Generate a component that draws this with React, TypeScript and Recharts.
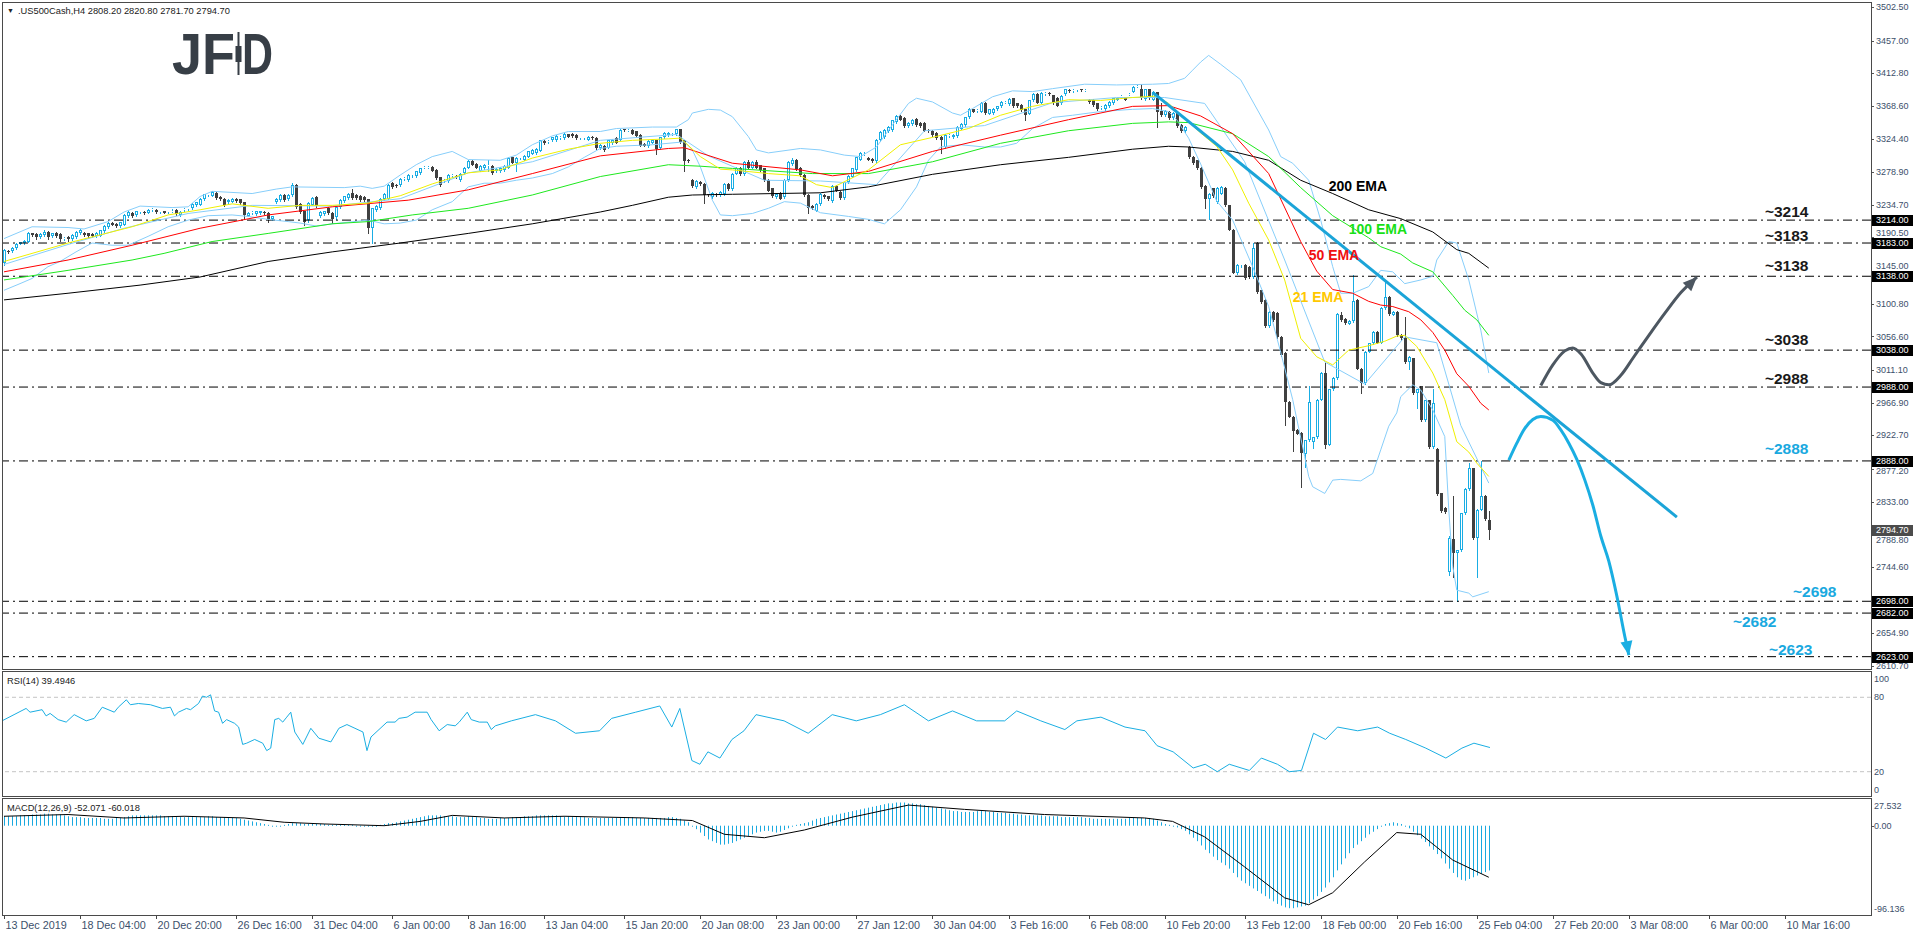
import React from 'react';
import { ComposedChart, Bar, Line, XAxis, YAxis, ReferenceLine, ReferenceDot } from 'recharts';

const FONT = '"Liberation Sans", Arial, sans-serif';
const W = 1916;
const SLOTS = 467;
const ML = 2;
const AXW = 45;
const TICK_C = '#3c4f6b';

// H4 candles [open, high, low, close]
const candles: number[][] = [
[3156,3175,3153,3173],[3172,3174,3169,3171],[3172,3177,3171,3176],[3176,3183,3175,3182],[3182,3185,3181,3184],[3183,3187,3181,3186],[3185,3198,3184,3196],[3196,3197,3193,3194],[3195,3196,3189,3191],[3191,3196,3190,3195],
[3194,3200,3193,3198],[3198,3199,3189,3191],[3192,3197,3191,3196],[3197,3198,3191,3192],[3195,3196,3186,3188],[3189,3191,3187,3190],[3191,3192,3186,3188],[3188,3195,3187,3194],[3191,3199,3190,3198],[3196,3202,3195,3200],
[3197,3198,3193,3194],[3196,3197,3191,3192],[3195,3196,3191,3192],[3192,3198,3191,3197],[3193,3201,3192,3200],[3199,3207,3198,3206],[3205,3211,3204,3210],[3210,3211,3207,3208],[3209,3210,3205,3206],[3206,3212,3205,3211],
[3208,3222,3207,3221],[3219,3226,3218,3225],[3224,3225,3218,3219],[3221,3227,3220,3226],[3225,3227,3223,3226],[3225,3226,3222,3224],[3224,3229,3223,3228],[3228,3231,3227,3229],[3228,3229,3224,3225],[3225,3227,3224,3226],
[3226,3227,3223,3224],[3225,3227,3224,3226],[3226,3229,3225,3227],[3228,3229,3221,3222],[3221,3226,3220,3225],[3228,3230,3226,3229],[3229,3231,3228,3230],[3230,3237,3229,3236],[3234,3239,3233,3238],[3235,3244,3234,3243],
[3242,3250,3241,3249],[3248,3250,3246,3249],[3247,3253,3246,3252],[3251,3252,3243,3244],[3245,3246,3241,3242],[3243,3244,3233,3234],[3238,3242,3236,3241],[3239,3244,3238,3243],[3243,3244,3239,3240],[3242,3243,3236,3237],
[3238,3239,3216,3221],[3220,3225,3219,3224],[3223,3226,3222,3225],[3222,3227,3221,3226],[3223,3227,3222,3226],[3225,3226,3222,3223],[3224,3225,3212,3215],[3215,3220,3214,3219],[3238,3244,3237,3243],[3241,3249,3240,3248],
[3248,3249,3240,3241],[3242,3249,3241,3248],[3248,3264,3247,3262],[3262,3263,3231,3232],[3236,3237,3224,3225],[3226,3227,3207,3212],[3214,3238,3212,3237],[3235,3245,3234,3244],[3245,3246,3232,3233],[3219,3226,3218,3225],
[3222,3227,3221,3226],[3231,3232,3222,3223],[3224,3225,3210,3215],[3218,3233,3216,3232],[3232,3242,3231,3241],[3240,3247,3239,3246],[3244,3251,3243,3250],[3251,3256,3243,3244],[3248,3249,3243,3244],[3247,3248,3240,3241],
[3245,3246,3240,3241],[3242,3243,3196,3204],[3204,3231,3183,3230],[3228,3234,3227,3233],[3230,3244,3229,3243],[3242,3251,3241,3250],[3243,3263,3242,3262],[3264,3266,3258,3259],[3262,3263,3259,3260],[3261,3271,3260,3270],
[3270,3272,3268,3271],[3268,3276,3267,3275],[3275,3277,3273,3276],[3274,3281,3273,3280],[3278,3285,3277,3284],[3285,3287,3284,3286],[3285,3287,3284,3286],[3286,3287,3280,3281],[3282,3283,3270,3271],[3272,3273,3260,3262],
[3267,3269,3266,3268],[3267,3276,3266,3275],[3274,3276,3273,3275],[3274,3275,3271,3272],[3268,3278,3267,3277],[3278,3286,3277,3285],[3285,3295,3284,3294],[3294,3295,3288,3289],[3290,3291,3284,3285],[3281,3288,3280,3287],
[3284,3290,3283,3289],[3287,3295,3280,3288],[3287,3288,3277,3278],[3280,3284,3279,3283],[3280,3286,3279,3285],[3282,3288,3281,3287],[3285,3299,3284,3298],[3299,3300,3291,3292],[3292,3299,3281,3298],[3298,3300,3297,3299],
[3296,3302,3295,3301],[3300,3308,3299,3307],[3304,3310,3303,3309],[3305,3311,3304,3310],[3308,3323,3307,3322],[3321,3322,3317,3318],[3320,3322,3319,3321],[3322,3327,3321,3326],[3322,3329,3321,3328],[3325,3328,3324,3327],
[3325,3332,3324,3331],[3330,3331,3326,3327],[3331,3332,3327,3328],[3329,3330,3324,3325],[3325,3327,3324,3326],[3325,3327,3324,3326],[3323,3328,3322,3327],[3327,3328,3324,3325],[3325,3326,3310,3311],[3311,3317,3310,3316],
[3315,3316,3308,3309],[3312,3323,3311,3322],[3318,3324,3317,3323],[3325,3326,3318,3319],[3323,3337,3322,3336],[3337,3338,3335,3336],[3335,3337,3334,3336],[3336,3337,3330,3331],[3334,3335,3327,3328],[3329,3330,3314,3315],
[3317,3318,3314,3315],[3314,3322,3313,3321],[3319,3323,3318,3322],[3322,3323,3303,3310],[3311,3327,3310,3326],[3326,3333,3325,3332],[3329,3333,3328,3332],[3330,3332,3329,3331],[3330,3338,3329,3337],[3337,3338,3319,3320],
[3322,3323,3281,3294],[3296,3297,3293,3295],[3268,3269,3259,3260],[3259,3268,3258,3267],[3266,3267,3262,3263],[3263,3264,3237,3248],[3249,3250,3246,3248],[3245,3252,3244,3251],[3250,3251,3247,3248],[3248,3253,3247,3252],
[3249,3264,3248,3263],[3263,3264,3255,3256],[3256,3278,3255,3277],[3277,3286,3276,3285],[3285,3286,3275,3276],[3276,3294,3275,3293],[3293,3296,3284,3285],[3285,3294,3284,3293],[3293,3295,3284,3285],[3288,3289,3281,3282],
[3284,3285,3267,3268],[3268,3269,3253,3254],[3257,3258,3245,3246],[3245,3251,3244,3250],[3251,3252,3242,3243],[3245,3269,3244,3268],[3268,3294,3267,3293],[3290,3298,3289,3296],[3296,3297,3282,3283],[3285,3286,3274,3275],
[3275,3277,3247,3248],[3248,3249,3223,3231],[3233,3234,3229,3230],[3227,3237,3226,3236],[3236,3251,3235,3250],[3248,3250,3244,3245],[3246,3247,3241,3242],[3240,3262,3238,3260],[3260,3262,3253,3254],[3252,3253,3243,3244],
[3244,3266,3243,3265],[3265,3275,3264,3274],[3273,3285,3272,3284],[3282,3300,3281,3299],[3296,3306,3295,3305],[3303,3306,3302,3304],[3298,3299,3295,3296],[3297,3298,3293,3294],[3294,3324,3293,3323],[3322,3335,3321,3333],
[3326,3337,3325,3336],[3334,3341,3333,3340],[3336,3350,3335,3349],[3347,3356,3346,3355],[3355,3356,3349,3350],[3352,3353,3340,3341],[3341,3347,3340,3346],[3344,3351,3343,3350],[3351,3352,3342,3343],[3346,3347,3340,3341],
[3346,3347,3334,3335],[3336,3337,3333,3334],[3335,3336,3328,3329],[3332,3333,3324,3325],[3327,3328,3305,3323],[3313,3330,3312,3329],[3328,3330,3327,3329],[3326,3330,3325,3329],[3328,3341,3327,3340],[3338,3345,3337,3344],
[3343,3354,3342,3353],[3353,3366,3352,3365],[3364,3365,3360,3361],[3362,3364,3361,3363],[3361,3374,3360,3373],[3373,3374,3358,3359],[3358,3365,3357,3364],[3359,3366,3358,3365],[3364,3369,3363,3368],[3368,3375,3367,3374],
[3373,3375,3372,3374],[3371,3379,3370,3378],[3379,3380,3367,3368],[3372,3373,3367,3368],[3370,3371,3362,3363],[3364,3365,3349,3356],[3358,3377,3357,3376],[3376,3386,3375,3385],[3385,3386,3372,3373],[3373,3387,3372,3386],
[3385,3388,3384,3386],[3386,3387,3384,3385],[3383,3384,3371,3372],[3380,3381,3368,3369],[3372,3383,3371,3382],[3385,3392,3384,3391],[3390,3391,3388,3389],[3389,3391,3388,3390],[3390,3392,3389,3391],[3391,3392,3389,3390],
[3390,3391,3389,3390.5],[3377,3378,3373,3374],[3377,3378,3369,3370],[3372,3373,3363,3364],[3366,3368,3365,3367],[3364,3371,3363,3370],[3368,3375,3367,3374],[3372,3380,3371,3379],[3377,3381,3376,3380],[3381,3383,3380,3382],
[3380,3381,3376,3377],[3384,3386,3383,3385],[3388,3395,3387,3394],[3395,3397,3394,3396],[3392,3398,3378,3379],[3378,3392,3377,3391],[3391,3392,3378,3379],[3377,3389,3376,3388],[3387,3388,3340,3360],[3362,3373,3355,3356],
[3356,3363,3355,3362],[3361,3362,3351,3352],[3352,3360,3351,3359],[3359,3360,3340,3341],[3343,3344,3333,3334],[3334,3341,3333,3340],[3313,3314,3298,3299],[3300,3301,3290,3291],[3295,3296,3283,3284],[3285,3286,3258,3259],
[3260,3261,3230,3243],[3243,3251,3216,3250],[3257,3258,3245,3246],[3238,3259,3237,3258],[3250,3260,3249,3259],[3258,3259,3233,3234],[3234,3235,3200,3201],[3201,3202,3142,3143],[3142,3154,3141,3153],[3153,3155,3151,3154],
[3153,3154,3134,3135],[3151,3152,3136,3137],[3137,3183,3136,3176],[3183,3184,3116,3117],[3119,3120,3102,3103],[3106,3107,3069,3070],[3070,3091,3069,3090],[3090,3091,3078,3079],[3088,3089,3055,3056],[3056,3057,3030,3031],
[3034,3035,2937,2968],[2968,2969,2947,2948],[2948,2949,2901,2928],[2930,2931,2924,2925],[2926,2927,2853,2899],[2898,2917,2880,2916],[2916,2989,2915,2968],[2913,2921,2905,2920],[2920,2972,2919,2971],[2971,3008,2970,3007],
[3007,3021,2906,2910],[2910,2986,2909,2985],[2985,3001,2984,3000],[3000,3088,2999,3087],[3086,3090,3078,3079],[3080,3081,3074,3075],[3074,3079,3073,3078],[3077,3140,3076,3104],[3106,3107,3012,3013],[3013,3014,2980,2993],
[2993,3037,2992,3036],[3036,3048,3035,3047],[3047,3064,3046,3063],[3063,3064,3047,3048],[3048,3096,3047,3095],[3095,3133,3094,3110],[3110,3111,3086,3087],[3086,3091,3085,3090],[3090,3091,3057,3058],[3058,3060,3052,3055],
[3055,3083,3021,3022],[3022,3030,3012,3029],[3027,3028,2979,2980],[2980,2986,2960,2985],[2989,2990,2942,2943],[2943,2971,2942,2970],[2970,2971,2906,2907],[2907,2986,2906,2966],[2904,2905,2842,2843],[2844,2845,2819,2820],
[2824,2826,2818,2819],[2737,2786,2734,2783],[2782,2840,2731,2763],[2763,2768,2698,2767],[2767,2818,2766,2817],[2817,2851,2816,2850],[2850,2885,2849,2878],[2878,2879,2782,2783],[2783,2823,2731,2822],[2822,2888,2821,2840],
[2840,2842,2808,2809],[2808.2,2820.8,2781.7,2794.7]
];

// indicator lines: [bar index, value]
const ema200: number[][] = [[0,3106],[16,3115],[34,3126],[49,3137],[66,3158],[82,3171],[99,3183],[116,3196],[132,3209],[149,3225],[157,3234],[166,3245],[172,3248],[182,3249],[204,3251],[216,3259],[232,3276],[249,3289],[266,3299],[282,3310],[291,3314],[296,3313],[307,3307],[316,3295],[324,3268],[332,3250],[341,3228],[349,3216],[357,3198],[363,3174],[366,3169],[371,3149]];
const ema100: number[][] = [[0,3133],[16,3146],[32,3160],[40,3169],[52,3185],[66,3196],[82,3209],[91,3212],[102,3221],[116,3230],[132,3248],[149,3273],[166,3289],[174,3287],[182,3284],[202,3277],[216,3277],[232,3293],[249,3318],[266,3335],[282,3345],[291,3347],[296,3346],[307,3331],[316,3300],[324,3258],[332,3220],[341,3190],[344,3178],[349,3168],[352,3156],[357,3144],[362,3112],[365,3092],[368,3079],[371,3058]];
const ema50: number[][] = [[0,3144],[16,3160],[32,3180],[49,3203],[66,3221],[82,3232],[101,3241],[116,3255],[132,3277],[149,3301],[166,3311],[170,3312],[182,3291],[199,3282],[207,3274],[216,3280],[232,3307],[249,3329],[266,3350],[282,3368],[291,3369],[299,3355],[307,3331],[316,3277],[324,3185],[328,3145],[332,3120],[337,3115],[341,3104],[344,3099],[347,3097],[351,3090],[354,3079],[357,3062],[360,3038],[363,3006],[366,2989],[369,2966],[371,2957]];
const ema21: number[][] = [[0,3158],[16,3183],[24,3194],[32,3205],[41,3221],[49,3228],[57,3236],[66,3230],[74,3234],[82,3234],[91,3237],[99,3247],[107,3263],[116,3278],[124,3282],[132,3298],[141,3310],[149,3318],[157,3322],[166,3324],[169,3325],[174,3300],[179,3283],[182,3282],[191,3277],[199,3274],[203,3262],[207,3258],[216,3282],[224,3316],[232,3326],[241,3338],[249,3356],[257,3368],[266,3377],[274,3376],[282,3380],[288,3382],[291,3372],[295,3352],[299,3332],[303,3314],[307,3282],[311,3237],[316,3187],[320,3133],[324,3054],[328,3029],[332,3018],[336,3038],[341,3044],[345,3050],[348,3057],[350,3058],[353,3043],[357,3007],[360,2971],[363,2914],[366,2900],[368,2885],[371,2867]];
const bbUpper: number[][] = [[0,3189],[7,3205],[16,3204],[20,3202],[26,3212],[30,3225],[34,3233],[42,3231],[46,3232],[49,3246],[52,3253],[62,3250],[68,3256],[72,3259],[85,3258],[89,3260],[92,3257],[95,3260],[99,3275],[103,3289],[107,3300],[112,3307],[116,3296],[124,3295],[128,3302],[132,3316],[137,3328],[141,3334],[149,3334],[153,3338],[162,3340],[168,3340],[171,3350],[172,3359],[176,3364],[179,3363],[182,3354],[186,3327],[188,3309],[191,3305],[199,3311],[204,3309],[210,3302],[214,3300],[218,3313],[222,3343],[226,3372],[228,3379],[232,3374],[237,3359],[239,3356],[242,3365],[247,3381],[252,3389],[257,3388],[262,3392],[270,3398],[278,3397],[287,3398],[291,3399],[295,3406],[297,3417],[299,3428],[301,3437],[304,3425],[309,3404],[316,3336],[319,3300],[322,3291],[326,3268],[329,3214],[332,3151],[334,3115],[337,3115],[341,3124],[344,3146],[347,3144],[350,3128],[354,3133],[357,3138],[358,3160],[361,3185],[363,3183],[366,3133],[369,3065],[371,3007]];
const bbMiddle: number[][] = [[0,3154],[16,3181],[30,3203],[46,3223],[62,3234],[82,3233],[99,3243],[116,3278],[132,3293],[149,3322],[168,3330],[176,3301],[190,3268],[204,3267],[218,3262],[230,3335],[245,3342],[262,3373],[278,3380],[290,3380],[300,3372],[310,3293],[320,3160],[330,3022],[340,2992],[350,3056],[358,3048],[364,2936],[371,2858]];
const bbLower: number[][] = [[0,3119],[4,3128],[7,3135],[11,3151],[14,3158],[18,3171],[22,3183],[27,3180],[31,3180],[36,3192],[41,3205],[46,3214],[51,3220],[57,3221],[61,3219],[66,3215],[71,3212],[74,3210],[78,3206],[82,3209],[91,3214],[95,3209],[99,3210],[103,3214],[107,3228],[112,3239],[116,3259],[120,3264],[124,3264],[128,3268],[132,3271],[137,3277],[141,3286],[145,3299],[149,3311],[153,3314],[162,3316],[170,3320],[172,3309],[174,3286],[177,3241],[179,3221],[182,3220],[187,3223],[191,3230],[195,3239],[199,3237],[204,3224],[211,3219],[216,3215],[220,3209],[224,3228],[228,3259],[231,3295],[234,3313],[239,3316],[245,3313],[249,3313],[253,3318],[257,3338],[262,3353],[267,3356],[274,3361],[282,3364],[287,3365],[291,3361],[293,3350],[296,3325],[299,3290],[303,3240],[307,3214],[312,3151],[316,3097],[319,3035],[322,2971],[325,2894],[326,2867],[327,2853],[330,2844],[332,2862],[334,2863],[339,2861],[342,2871],[344,2903],[346,2935],[348,2953],[349,2975],[352,2991],[354,2984],[357,2957],[360,2921],[361,2822],[362,2745],[363,2713],[366,2709],[367,2704],[371,2711]];

// drawn annotations: [slot, price]
const trendPts: number[][] = [[287,3387],[418,2812]];
const bluePts: number[][] = [[376,2889],[378,2912],[380,2932],[382,2944],[384,2948],[387,2943],[389,2930],[391,2912],[393,2890],[395,2862],[397,2828],[399,2786],[401,2752],[403,2705],[405,2650],[406,2625]];
const greyPts: number[][] = [[384,2990],[387,3018],[390,3037],[392,3041],[394,3033],[397,3007],[399,2994],[401,2991],[404,3004],[407,3027],[411,3058],[415,3088],[419,3116],[423,3137]];

const levels = [3214, 3183, 3138, 3038, 2988, 2888, 2698, 2682, 2623];
const lastPrice = 2794.7;
const priceTicks = [3502.5, 3457.0, 3412.8, 3368.6, 3324.4, 3278.9, 3234.7, 3190.5, 3145.0, 3100.8, 3056.6, 3011.1, 2966.9, 2922.7, 2877.2, 2833.0, 2788.8, 2744.6, 2654.9, 2610.7];
// small vertical label offsets (px) for tick labels that sit next to a level box
const tickNudge: Record<string, number> = { '3190.5': -5, '3145': -5, '2877.2': 2, '2788.8': 6 };
const levelTags: [string, number, number, string][] = [
  ['~3214', 440, 3218, '#1a1a1a'], ['~3183', 440, 3186, '#1a1a1a'], ['~3138', 440, 3145, '#1a1a1a'],
  ['~3038', 440, 3045, '#1a1a1a'], ['~2988', 440, 2992, '#1a1a1a'], ['~2888', 440, 2897, '#1aa9df'],
  ['~2698', 447, 2704, '#1aa9df'], ['~2682', 432, 2663, '#1aa9df'], ['~2623', 441, 2625, '#1aa9df'],
];
const emaTags: [string, number, number, string][] = [
  ['200 EMA', 331, 3253, '#000000'], ['100 EMA', 336, 3195, '#17e017'], ['50 EMA', 326, 3160, '#f01010'], ['21 EMA', 322, 3103, '#ffc800'],
];

const rsiPts: number[][] = [[0,61],[3,66],[6,71],[7,68],[10,70],[11,65],[12,67],[14,62],[16,60],[18,66],[21,61],[23,63],[25,72],[28,68],[29,72],[31,78],[32,74],[34,75],[37,74],[40,71],[42,72],[43,65],[44,68],[46,71],[47,70],[49,75],[50,81],[51,80],[52,82],[53,69],[54,68],[55,59],[56,62],[58,59],[59,56],[60,42],[61,43],[63,46],[65,43],[66,37],[67,39],[68,62],[69,63],[70,60],[71,64],[72,68],[73,52],[75,42],[77,55],[79,47],[82,44],[84,55],[86,58],[88,55],[90,52],[91,37],[92,48],[94,54],[96,60],[98,60],[99,63],[101,64],[103,68],[106,68],[107,62],[109,53],[111,58],[113,57],[114,60],[116,68],[117,62],[119,60],[121,60],[122,54],[123,57],[127,61],[133,66],[138,61],[143,51],[149,53],[152,63],[158,68],[164,73],[167,56],[169,71],[172,29],[174,26],[176,36],[179,31],[182,46],[185,53],[188,66],[195,61],[201,51],[207,66],[213,61],[219,66],[225,74],[231,61],[237,69],[243,61],[250,61],[253,69],[259,61],[265,54],[268,61],[274,64],[280,56],[285,53],[288,41],[292,36],[297,23],[300,26],[303,20],[306,26],[311,21],[314,31],[318,26],[321,20],[324,21],[327,51],[330,46],[333,56],[338,53],[343,56],[346,51],[350,46],[355,39],[360,31],[364,39],[367,43],[371,39.49]];

const macdHist: number[] = [
11,11,11,11,12,12,12, 13,13,13,14,14,13,13,13,12, 11,10,10,10,9,9,9,9, 9,8,8,8,9,9,10,
11,12,12,12,12,12,12,12,12,11,11, 11,10,10,10,10,10,10,10,10,11,11,10,10,10,9,9,9,8,7,
6,5,4,3,2,1, 0,-1,0,1,2, 3,3,3,2,2,2,2,2,2,1,1, 1,1,1,1,1,0,0,-1,-1,0,0,1,2,
3,3,4,5,6,7,8,9,10, 11,12,12,12,12,11,11,11,10,10,10,11, 10,10,9,9,8,8,8,9,
9,9,10,10,10,11,11,11,12,12,12,12,12,12,11,11,11,10,10,
10,10,9,9,9,9,9,9,9,9,10,10,10,10,9,9,9,9,9,9,9,9,10,10,9,8,6,4,
0,-4,-8,-12,-16,-18,-20,-22,-22,-21,-20,-18,-16,-14,
-12,-10,-8,-7,-6,-6,-7,-8,-7,-5,-3,-1,
1,2,3,4,6,8,9,10,11,12,13,14,15,16,17,18,
19,20,21,22,23,24,25,26,26,27,27,27,26,26,25,25,24,23,22,21,20,19,
18,17,17,16,16,16,16,17,17,17,16,16,15,15,15,14,14,13,13,12,
12,12,12,12,11,11,11,11,10,10,10,10,10,10,9,9,8,8,8,8,8,8,8,8,8,9,9,9,9,9,9,8,
6,4,2,1,0,-2,-4,-6,-10,-14,-18,-23,-28,
-32,-36,-40,-43,-46,-50,-55,-60,-64,-67,-70,-73,-76,-79,-82,-85,-88,-91,-93,-95,
-96,-96,-95,-94,-93,-90,-86,-82,-77,-72,
-66,-60,-52,-45,-38,-32,-26,-22,-18,-14,-10,-7,-4,-1,2,
3,4,3,2,0,-3,-7,
-11,-15,-19,-24,-28,-33,-38,-44,-50,-55,-60,-63,-64,-62,-60,-58,-56,-54,-52.07
];
const macdSignal: number[][] = [[0,11],[16,13],[30,9],[45,11],[60,9],[70,4],[80,2],[95,0],[104,5],[112,12],[125,9],[140,11],[160,9],[172,6],[180,-10],[190,-14],[200,-5],[212,10],[226,24],[240,19],[260,13],[285,9],[292,5],[300,-13],[310,-48],[320,-84],[326,-92],[332,-78],[340,-42],[348,-8],[354,-10],[362,-40],[371,-60.02]];

const dateLabels = ['13 Dec 2019','18 Dec 04:00','20 Dec 20:00','26 Dec 16:00','31 Dec 04:00','6 Jan 00:00','8 Jan 16:00','13 Jan 04:00','15 Jan 20:00','20 Jan 08:00','23 Jan 00:00','27 Jan 12:00','30 Jan 04:00','3 Feb 16:00','6 Feb 08:00','10 Feb 20:00','13 Feb 12:00','18 Feb 00:00','20 Feb 16:00','25 Feb 04:00','27 Feb 20:00','3 Mar 08:00','6 Mar 00:00','10 Mar 16:00'];
const dateSlots = [0,19,38,58,77,97,116,135,155,174,193,213,232,251,271,290,310,329,348,368,387,406,426,445];

// ---------- tables built from the arrays ----------
const mainRows: any[] = Array.from({ length: SLOTS }, (_, k) => {
  const r: any = { k };
  const c = candles[k];
  if (c) { r.o = c[0]; r.h = c[1]; r.l = c[2]; r.c = c[3]; r.hl = [c[2], c[1]]; }
  return r;
});
const put = (rows: any[], pts: number[][], key: string) => pts.forEach(([k, v]) => { rows[k][key] = v; });
put(mainRows, ema200, 'e200'); put(mainRows, ema100, 'e100'); put(mainRows, ema50, 'e50'); put(mainRows, ema21, 'e21');
put(mainRows, bbUpper, 'bu'); put(mainRows, bbMiddle, 'bm'); put(mainRows, bbLower, 'bl');
put(mainRows, trendPts, 'tr'); put(mainRows, bluePts, 'bc'); put(mainRows, greyPts, 'gc');

const rsiRows: any[] = Array.from({ length: SLOTS }, (_, k) => ({ k }));
put(rsiRows, rsiPts, 'rsi');

const macdRows: any[] = Array.from({ length: SLOTS }, (_, k) => {
  const r: any = { k };
  if (k < macdHist.length) r.m = macdHist[k];
  return r;
});
put(macdRows, macdSignal, 'sig');
const dateMap = new Map<number, string>(dateSlots.map((k, i) => [k, dateLabels[i]]));

// ---------- renderers ----------
const Candle = (p: any) => {
  const { x, y, width, height, payload } = p;
  if (!payload || payload.o == null || !isFinite(y) || !isFinite(height)) return <g />;
  const top = Math.min(y, y + height);
  const h = Math.abs(height);
  const hi = payload.h, lo = payload.l;
  const py = (v: number) => top + ((hi - v) / (hi - lo)) * h;
  const px = Math.floor(x + width / 2);
  const cx = px + 0.5;
  const bull = payload.c >= payload.o;
  const color = bull ? '#19ade4' : '#404040';
  const bTop = Math.round(py(Math.max(payload.o, payload.c)));
  const bBot = Math.max(Math.round(py(Math.min(payload.o, payload.c))), bTop + 1);
  return (
    <g>
      <line x1={cx} x2={cx} y1={Math.round(top)} y2={bTop} stroke={color} strokeWidth={1} />
      <line x1={cx} x2={cx} y1={bBot} y2={Math.round(top + h) + 1} stroke={color} strokeWidth={1} />
      {bull ? (
        <rect x={px - 0.5} y={bTop + 0.5} width={2} height={Math.max(0, bBot - bTop - 1)} fill="#ffffff" stroke={color} strokeWidth={1} />
      ) : (
        <rect x={px - 1} y={bTop} width={3} height={bBot - bTop} fill={color} />
      )}
    </g>
  );
};

const HistBar = (p: any) => {
  const { x, y, width, height } = p;
  if (!isFinite(y) || !isFinite(height)) return <g />;
  const top = Math.min(y, y + height);
  const h = Math.max(1, Math.abs(height));
  return <rect x={Math.floor(x + width / 2)} y={top} width={1} height={h} fill="#1aa9df" />;
};

const PriceTick = (p: any) => {
  const v: number = p.payload.value;
  const x = p.x, y = p.y;
  const isBox = levels.includes(v) || v === lastPrice;
  if (isBox) {
    const bg = v === lastPrice ? '#4b4b4b' : '#000000';
    return (
      <g>
        <rect x={x - 4} y={Math.round(y) - 5} width={41} height={11} fill={bg} />
        <text x={x} y={y} dy={3.2} fontSize={9} fill="#ffffff" fontFamily={FONT}>{v.toFixed(2)}</text>
      </g>
    );
  }
  const shift = tickNudge[String(v)] || 0;
  return (
    <g>
      <line x1={x - 5} x2={x - 2} y1={Math.round(y) + 0.5} y2={Math.round(y) + 0.5} stroke="#555" />
      <text x={x} y={y + shift} dy={3.2} fontSize={9} fill={TICK_C} fontFamily={FONT}>{v.toFixed(2)}</text>
    </g>
  );
};

const RsiTick = (p: any) => {
  const v: number = p.payload.value;
  const shift = v === 100 ? 6 : v === 0 ? -6.5 : 0;
  return <text x={p.x} y={p.y + shift} dy={3.2} fontSize={9} fill={TICK_C} fontFamily={FONT}>{String(v)}</text>;
};

const MacdTick = (p: any) => {
  const v: number = p.payload.value;
  const shift = v > 20 ? 4 : 0;
  const txt = v === 0 ? '0.00' : String(v);
  return (
    <g>
      {v === 0 && <line x1={p.x - 5} x2={p.x - 2} y1={Math.round(p.y) + 0.5} y2={Math.round(p.y) + 0.5} stroke="#555" />}
      <text x={p.x - 2} y={p.y + shift} dy={3.2} fontSize={9} fill={TICK_C} fontFamily={FONT}>{txt}</text>
    </g>
  );
};

const DateTick = (p: any) => {
  const lbl = dateMap.get(p.payload.value);
  if (!lbl) return <g />;
  const x = Math.round(p.x) + 0.5;
  return (
    <g>
      <line x1={x} x2={x} y1={p.y} y2={p.y + 4} stroke="#444" />
      <text x={x + 1} y={p.y + 14} fontSize={10.8} fill={TICK_C} fontFamily={FONT}>{lbl}</text>
    </g>
  );
};

const arrowDot = (lastK: number, angleDeg: number, color: string) => (p: any) => {
  const key = `ad${p.index}`;
  if (!p.payload || p.payload.k !== lastK || p.cx == null || p.cy == null || !isFinite(p.cy)) return <g key={key} />;
  const a = (angleDeg * Math.PI) / 180;
  const L = 14, Wd = 6;
  const tx = p.cx, ty = p.cy;
  const bx = tx - L * Math.cos(a), by = ty - L * Math.sin(a);
  const nx = -Math.sin(a) * Wd, ny = Math.cos(a) * Wd;
  return <path key={key} d={`M${tx},${ty}L${bx + nx},${by + ny}L${bx - nx},${by - ny}Z`} fill={color} />;
};

const tagShape = (text: string, color: string, size: number) => (p: any) => (
  <text x={p.cx} y={p.cy} fontSize={size} fontWeight="bold" fill={color} fontFamily={FONT}>{text}</text>
);

const thin = { dot: false, activeDot: false, connectNulls: true, isAnimationActive: false } as const;

export default function App() {
  return (
    <div style={{ position: 'absolute', left: 0, top: 0, width: W, height: 936, background: '#ffffff', overflow: 'hidden' }}>
      {/* main price panel */}
      <div style={{ position: 'absolute', left: 0, top: 0 }}>
        <ComposedChart width={W} height={670} data={mainRows} margin={{ top: 2, right: 0, bottom: 1, left: ML }}>
          <XAxis dataKey="k" type="category" hide />
          <YAxis orientation="right" width={AXW} type="number" domain={[2606.3, 3509.3]} allowDataOverflow
            ticks={[...priceTicks, ...levels, lastPrice]} interval={0} tickSize={3} tickMargin={2}
            axisLine={false} tickLine={false} tick={(p: any) => <PriceTick {...p} />} />
          {levels.map((v) => (
            <ReferenceLine key={v} y={v} stroke="#000000" strokeWidth={1} strokeDasharray="9 4 2 4" />
          ))}
          <Line dataKey="bu" stroke="#87cefa" strokeWidth={1} {...thin} />
          <Line dataKey="bm" stroke="#87cefa" strokeWidth={1} {...thin} />
          <Line dataKey="bl" stroke="#87cefa" strokeWidth={1} {...thin} />
          <Line dataKey="e200" stroke="#000000" strokeWidth={1} {...thin} />
          <Line dataKey="e100" stroke="#1ee81e" strokeWidth={1} {...thin} />
          <Line dataKey="e50" stroke="#ff0000" strokeWidth={1} {...thin} />
          <Line dataKey="e21" stroke="#f0f000" strokeWidth={1} {...thin} />
          <Bar dataKey="hl" barSize={3} isAnimationActive={false} shape={(p: any) => <Candle {...p} />} />
          <Line dataKey="tr" stroke="#1ba4d8" strokeWidth={3} {...thin} />
          <Line dataKey="bc" type="monotone" stroke="#1aaee2" strokeWidth={3} connectNulls isAnimationActive={false} activeDot={false}
            dot={arrowDot(bluePts[bluePts.length - 1][0], 80, '#1aaee2')} />
          <Line dataKey="gc" type="monotone" stroke="#4d5761" strokeWidth={3} connectNulls isAnimationActive={false} activeDot={false}
            dot={arrowDot(greyPts[greyPts.length - 1][0], -45, '#4d5761')} />
          {emaTags.map(([t, k, pr, c]) => (
            <ReferenceDot key={t} x={k} y={pr} r={1} fill="none" stroke="none" shape={tagShape(t, c, 14)} />
          ))}
          {levelTags.map(([t, k, pr, c]) => (
            <ReferenceDot key={t} x={k} y={pr} r={1} fill="none" stroke="none" shape={tagShape(t, c, 15.5)} />
          ))}
        </ComposedChart>
      </div>

      {/* RSI panel */}
      <div style={{ position: 'absolute', left: 0, top: 671 }}>
        <ComposedChart width={W} height={126} data={rsiRows} margin={{ top: 0, right: 0, bottom: 0, left: ML }}>
          <XAxis dataKey="k" type="category" hide />
          <YAxis orientation="right" width={AXW} type="number" domain={[-0.4, 101.2]} allowDataOverflow
            ticks={[100, 80, 20, 0]} interval={0} tickSize={0} tickMargin={3} axisLine={false} tickLine={false}
            tick={(p: any) => <RsiTick {...p} />} />
          <ReferenceLine y={80} stroke="#c4c4c4" strokeDasharray="4 3" />
          <ReferenceLine y={20} stroke="#c4c4c4" strokeDasharray="4 3" />
          <Line dataKey="rsi" stroke="#1aaee2" strokeWidth={1} {...thin} />
        </ComposedChart>
      </div>

      {/* MACD panel */}
      <div style={{ position: 'absolute', left: 0, top: 797 }}>
        <ComposedChart width={W} height={139} data={macdRows} margin={{ top: 1, right: 0, bottom: 0, left: ML }}>
          <XAxis dataKey="k" type="category" height={21} interval={0} tickSize={0} tickMargin={0}
            axisLine={false} tickLine={false} tick={(p: any) => <DateTick {...p} />} />
          <YAxis orientation="right" width={AXW} type="number" domain={[-103.93, 32.24]} allowDataOverflow
            ticks={[27.532, 0, -96.136]} interval={0} tickSize={3} tickMargin={2} axisLine={false} tickLine={false}
            tick={(p: any) => <MacdTick {...p} />} />
          <Bar dataKey="m" barSize={1} isAnimationActive={false} shape={(p: any) => <HistBar {...p} />} />
          <Line dataKey="sig" stroke="#000000" strokeWidth={1} {...thin} />
        </ComposedChart>
      </div>

      {/* panel frames */}
      <div style={{ position: 'absolute', left: 2, top: 2, width: 1870, height: 668, border: '1px solid #4a4a4a', boxSizing: 'border-box', pointerEvents: 'none' }} />
      <div style={{ position: 'absolute', left: 2, top: 671, width: 1870, height: 126, border: '1px solid #4a4a4a', boxSizing: 'border-box', pointerEvents: 'none' }} />
      <div style={{ position: 'absolute', left: 2, top: 798, width: 1870, height: 118, border: '1px solid #4a4a4a', boxSizing: 'border-box', pointerEvents: 'none' }} />

      {/* titles and logo */}
      <svg width={W} height={936} style={{ position: 'absolute', left: 0, top: 0, pointerEvents: 'none' }}>
        <text x={7} y={13} fontSize={7} fill="#222" fontFamily={FONT}>▼</text>
        <text x={18} y={14} fontSize={9.3} fill="#1a1a1a" fontFamily={FONT}>.US500Cash,H4  2808.20 2820.80 2781.70 2794.70</text>
        <text x={172} y={74} fontSize={58} fontWeight="bold" fill="#373e46" fontFamily={FONT} textLength={63} lengthAdjust="spacingAndGlyphs">JF</text>
        <line x1={238.5} x2={238.5} y1={32} y2={75} stroke="#373e46" strokeWidth={2} />
        <rect x={235.5} y={46} width={6} height={16} fill="#373e46" />
        <text x={242} y={74} fontSize={58} fontWeight="bold" fill="#373e46" fontFamily={FONT} textLength={31} lengthAdjust="spacingAndGlyphs">D</text>
        <text x={7} y={684} fontSize={9.3} fill="#1a1a1a" fontFamily={FONT}>RSI(14) 39.4946</text>
        <text x={7} y={811} fontSize={9.3} fill="#1a1a1a" fontFamily={FONT}>MACD(12,26,9) -52.071 -60.018</text>
      </svg>
    </div>
  );
}
